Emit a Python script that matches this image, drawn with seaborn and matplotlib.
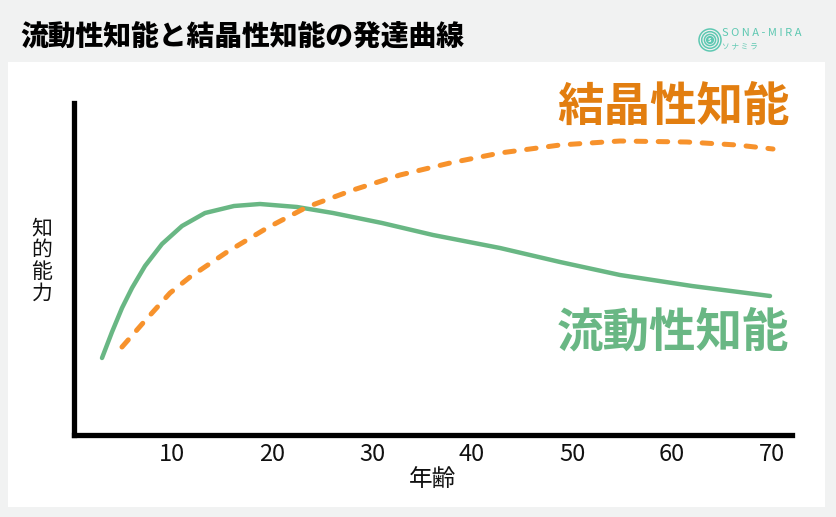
import matplotlib
matplotlib.use("Agg")
import matplotlib.pyplot as plt
import matplotlib.patches as mpatches
import seaborn as sns
import pandas as pd

# values (arbitrary ability units)
fluid_age = [3.0, 4.0, 5.0, 6.0, 7.3, 9.0, 11.0, 13.3, 16.2, 18.8, 22.5, 26.1,
             31.0, 36.1, 42.8, 48.8, 54.8, 62.0, 69.8]
fluid_val = [77, 103, 127, 147, 169, 191, 209, 222, 229, 231, 228, 222,
             212, 200, 187, 173, 160, 149, 139]
cryst_age = [5.0, 7.1, 9.8, 11.8, 15.5, 19.5, 23.5, 28.1, 32.8, 37.8, 42.8,
             48.8, 54.8, 61.5, 66.5, 70.1]
cryst_val = [88, 112, 142, 158, 183, 207, 228, 245, 260, 272, 282,
             290, 294, 293, 290, 286]
xticks = [10, 20, 30, 40, 50, 60, 70]

GREEN = "#69b784"
ORANGE = "#f7922c"
ORANGE_TXT = "#e27e10"
TEAL = "#5ec8b2"

sns.set_style("white")
plt.rcParams["font.family"] = ["Noto Sans CJK JP", "DejaVu Sans"]

W, H = 836, 517
fig = plt.figure(figsize=(W / 100, H / 100), dpi=100, facecolor="#f1f2f2")

# white panel
fig.patches.append(mpatches.Rectangle((8 / W, 1 - 507 / H), 817 / W, 445 / H,
                                      transform=fig.transFigure, facecolor="white",
                                      edgecolor="none", zorder=-5))

fig.text(20 / W, 1 - 36 / H, "流動性知能と結晶性知能の発達曲線", fontsize=20,
         fontweight="heavy", color="black", va="center", ha="left")

# logo
lax = fig.add_axes([697 / W, 1 - 53 / H, 26 / W, 26 / H])
for r in [11, 8.3, 5.6]:
    lax.add_patch(mpatches.Circle((0, 0), r, fill=False, color=TEAL, lw=1.1))
lax.add_patch(mpatches.Circle((0, 0), 3.4, color=TEAL))
lax.text(0, 0, "S", color="white", fontsize=4, ha="center", va="center", fontweight="bold")
lax.set_xlim(-13, 13)
lax.set_ylim(-13, 13)
lax.set_aspect("equal")
lax.axis("off")
fig.text(722 / W, 1 - 33 / H, "S O N A - M I R A", fontsize=8, color=TEAL,
         va="center", ha="left")
fig.text(722 / W, 1 - 47 / H, "ソ ナ ミ ラ", fontsize=5.5, color=TEAL,
         va="center", ha="left")

ax = fig.add_axes([74 / W, 1 - 435 / H, 718 / W, 332 / H])
ax.set_facecolor("none")
ax.set_zorder(2)

fluid = pd.DataFrame({"age": fluid_age, "val": fluid_val})
cryst = pd.DataFrame({"age": cryst_age, "val": cryst_val})

sns.lineplot(data=fluid, x="age", y="val", ax=ax, color=GREEN, lw=3.2,
             solid_capstyle="round", solid_joinstyle="round")
sns.lineplot(data=cryst, x="age", y="val", ax=ax, color=ORANGE, lw=3.6)
ax.lines[-1].set_dashes((1.9, 2.5))
ax.lines[-1].set_dash_capstyle("round")

ax.set_xlim(0.2, 72.0)
ax.set_ylim(0, 332)
ax.set_xticks(xticks)
ax.set_xticklabels([str(t) for t in xticks])
ax.set_yticks([])
ax.tick_params(axis="x", length=0, pad=6, labelsize=17, colors="#111111")

for s in ["top", "right"]:
    ax.spines[s].set_visible(False)
for s in ["left", "bottom"]:
    ax.spines[s].set_linewidth(3.8)
    ax.spines[s].set_color("black")
    ax.spines[s].set_capstyle("projecting")

ax.set_xlabel("年齢", fontsize=17, labelpad=1, color="#111111")
ax.set_ylabel("")
fig.text(42 / W, 1 - 261 / H, "知\n的\n能\n力", fontsize=15, ha="center",
         va="center", linespacing=1.0, color="#111111")

ax.text(48.5, 328, "結晶性知能", color=ORANGE_TXT, fontsize=33.5, fontweight="bold",
        ha="left", va="center", clip_on=False)
ax.text(48.5, 103, "流動性知能", color=GREEN, fontsize=33.5, fontweight="bold",
        ha="left", va="center", clip_on=False)

fig.savefig("out.png", dpi=100, facecolor=fig.get_facecolor())
